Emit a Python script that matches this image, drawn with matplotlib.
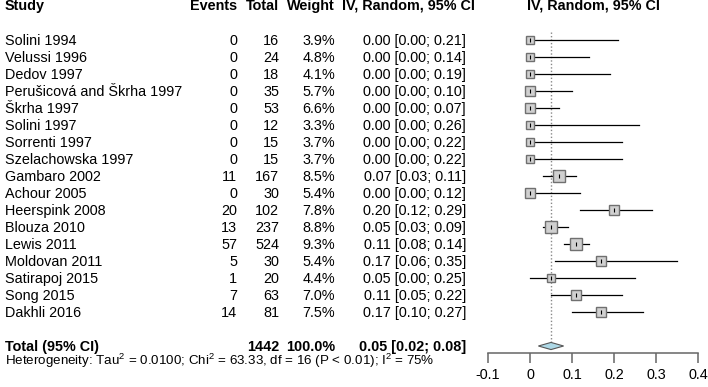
import numpy as np
import matplotlib.pyplot as plt
from matplotlib.transforms import blended_transform_factory

plt.rcParams['font.family'] = ['Liberation Sans', 'DejaVu Sans']
plt.rcParams['mathtext.fontset'] = 'custom'
plt.rcParams['mathtext.rm'] = 'Liberation Sans'
plt.rcParams['mathtext.it'] = 'Liberation Sans:italic'
plt.rcParams['mathtext.bf'] = 'Liberation Sans:bold'

# data
studies = ["Solini 1994", "Velussi 1996", "Dedov 1997", "Perušicová and Škrha 1997",
           "Škrha 1997", "Solini 1997", "Sorrenti 1997", "Szelachowska 1997",
           "Gambaro 2002", "Achour 2005", "Heerspink 2008", "Blouza 2010",
           "Lewis 2011", "Moldovan 2011", "Satirapoj 2015", "Song 2015", "Dakhli 2016"]
events = [0, 0, 0, 0, 0, 0, 0, 0, 11, 0, 20, 13, 57, 5, 1, 7, 14]
totals = [16, 24, 18, 35, 53, 12, 15, 15, 167, 30, 102, 237, 524, 30, 20, 63, 81]
weights = [3.9, 4.8, 4.1, 5.7, 6.6, 3.3, 3.7, 3.7, 8.5, 5.4, 7.8, 8.8, 9.3, 5.4, 4.4, 7.0, 7.5]
est = [0.00, 0.00, 0.00, 0.00, 0.00, 0.00, 0.00, 0.00, 0.07, 0.00, 0.20, 0.05, 0.11, 0.17, 0.05, 0.11, 0.17]
lower = [0.00, 0.00, 0.00, 0.00, 0.00, 0.00, 0.00, 0.00, 0.03, 0.00, 0.12, 0.03, 0.08, 0.06, 0.00, 0.05, 0.10]
upper = [0.21, 0.14, 0.19, 0.10, 0.07, 0.26, 0.22, 0.22, 0.11, 0.12, 0.29, 0.09, 0.14, 0.35, 0.25, 0.22, 0.27]
pooled = (0.05, 0.02, 0.08)
total_n = 1442
total_weight = "100.0%"
het_text = r"Heterogeneity: Tau$^2$ = 0.0100; Chi$^2$ = 63.33, df = 16 (P < 0.01); I$^2$ = 75%"
xticks = [-0.1, 0, 0.1, 0.2, 0.3, 0.4]
xticklabels = ['-0.1', '0', '0.1', '0.2', '0.3', '0.4']

W, H = 708, 387
fig = plt.figure(figsize=(W / 100, H / 100), dpi=100)

# forest panel: rows are 17 px apart starting at y=40 px
row0, rowh = 40, 17
ax_bottom = 353
ax = fig.add_axes([488 / W, (H - ax_bottom) / H, 210 / W, ax_bottom / H])
ax.set_xlim(-0.1, 0.4)
ax.set_ylim((ax_bottom - row0) / rowh, (0 - row0) / rowh)
for s in ['top', 'left', 'right']:
    ax.spines[s].set_visible(False)
ax.spines['bottom'].set_color('#666666')
ax.spines['bottom'].set_linewidth(1.1)
ax.set_yticks([])
ax.set_xticks(xticks)
ax.set_xticklabels(xticklabels)
ax.tick_params(axis='x', direction='out', length=7.2, width=1.1, color='#666666',
               labelsize=10.4, pad=3.5)
ax.patch.set_visible(False)

rows = np.arange(len(studies))
total_row = 18.0

# pooled estimate dotted line
ax.plot([pooled[0], pooled[0]], [-0.5, total_row], color='#888888', lw=1.0,
        ls=(0, (1, 1.5)), zorder=1)

for i in rows:
    ax.plot([lower[i], upper[i]], [i, i], color='black', lw=0.9, zorder=2,
            clip_on=False)
    side = 3.93 * np.sqrt(weights[i]) * 0.72
    ax.plot(est[i], i, marker='s', ms=side, mfc='#d0d0d0', mec='#707070',
            mew=1.0, zorder=3, clip_on=False)
    ax.plot(est[i], i, marker='|', ms=3, mec='black', mew=0.8, zorder=4,
            clip_on=False)

# diamond
dh = 0.21
ax.fill([pooled[1], pooled[0], pooled[2], pooled[0]],
        [total_row, total_row - dh, total_row, total_row + dh],
        facecolor='#add8e6', edgecolor='#555555', lw=0.8, zorder=3, clip_on=False)

# text columns, placed by baseline (pixel -> row units)
tr = blended_transform_factory(fig.transFigure, ax.transData)
fs = 10.4


def col(xpx, ybase_px, s, ha, bold=False, size=fs):
    fig.text(xpx / W, (ybase_px - row0) / rowh, s, transform=tr, ha=ha,
             va='baseline', fontsize=size, fontweight='bold' if bold else 'normal')


hdr = 10
col(5, hdr, "Study", 'left', True)
col(237, hdr, "Events", 'right', True)
col(279, hdr, "Total", 'right', True)
col(335, hdr, "Weight", 'right', True)
col(342, hdr, "IV, Random, 95% CI", 'left', True)
col(593, hdr, "IV, Random, 95% CI", 'center', True)

for i in rows:
    yb = row0 + rowh * i + 5
    col(5, yb, studies[i], 'left')
    col(237, yb, str(events[i]), 'right')
    col(279, yb, str(totals[i]), 'right')
    col(335, yb, f"{weights[i]:.1f}%", 'right')
    col(466, yb, f"{est[i]:.2f} [{lower[i]:.2f}; {upper[i]:.2f}]", 'right')

tb = 351
col(5, tb, "Total (95% CI)", 'left', True)
col(279, tb, str(total_n), 'right', True)
col(335, tb, total_weight, 'right', True)
col(466, tb, f"{pooled[0]:.2f} [{pooled[1]:.2f}; {pooled[2]:.2f}]", 'right', True)
col(5, 365.5, het_text, 'left', size=9.6)

fig.savefig('out.png', dpi=100, facecolor='white')
